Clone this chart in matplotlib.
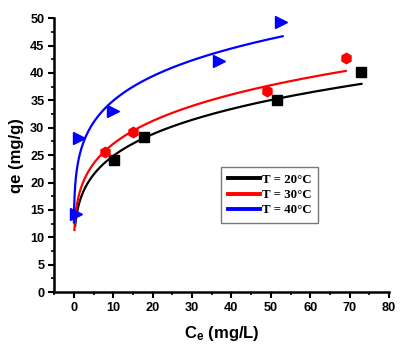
import numpy as np
import matplotlib
matplotlib.use("Agg")
import matplotlib.pyplot as plt
from matplotlib.ticker import MultipleLocator

# Experimental data (Ce in mg/L, qe in mg/g)
ce_20 = [10.1, 17.7, 51.6, 72.9]
qe_20 = [24.2, 28.3, 35.0, 40.2]
ce_30 = [7.9, 15.1, 49.0, 69.0]
qe_30 = [25.5, 29.3, 36.7, 42.8]
ce_40 = [0.5, 1.2, 9.9, 36.8, 52.6]
qe_40 = [14.3, 28.2, 33.1, 42.1, 49.2]

# Freundlich fit parameters (K, 1/n) and fitted Ce range
fit_20 = (15.2, 0.2136, 0.35, 73.0)
fit_30 = (16.8, 0.207, 0.15, 69.0)
fit_40 = (23.4, 0.174, 0.03, 53.0)

labels = ["T = 20°C", "T = 30°C", "T = 40°C"]
colors = ["black", "red", "blue"]

plt.rcParams['font.family'] = ['Liberation Sans', 'DejaVu Sans']
plt.rcParams['mathtext.default'] = 'regular'

fig = plt.figure(figsize=(4.13, 3.55), dpi=100)
ax = fig.add_axes([0.131, 0.177, 0.811, 0.772])

lines = []
for (K, invn, c0, c1), col, lab in zip([fit_20, fit_30, fit_40], colors, labels):
    c = np.logspace(np.log10(c0), np.log10(c1), 300)
    ln, = ax.plot(c, K * c ** invn, color=col, lw=1.6, label=lab, zorder=2)
    lines.append(ln)

ax.plot(ce_20, qe_20, ls='none', marker='s', ms=6.8, color='black', zorder=3, clip_on=False)
ax.plot(ce_30, qe_30, ls='none', marker='h', ms=7.5, color='red', zorder=3, clip_on=False)
ax.plot(ce_40, qe_40, ls='none', marker='>', ms=9, color='blue', zorder=4, clip_on=False)

ax.set_xlim(-5, 80)
ax.set_ylim(0, 50)
ax.xaxis.set_major_locator(MultipleLocator(10))
ax.xaxis.set_minor_locator(MultipleLocator(5))
ax.yaxis.set_major_locator(MultipleLocator(5))
ax.yaxis.set_minor_locator(MultipleLocator(2.5))

for s in ['top', 'right']:
    ax.spines[s].set_visible(False)
for s in ['left', 'bottom']:
    ax.spines[s].set_linewidth(1.8)

ax.tick_params(which='major', direction='out', length=4, width=1.5, labelsize=9.2, pad=3)
ax.tick_params(which='minor', direction='out', length=2.5, width=1.2)
for t in ax.get_xticklabels() + ax.get_yticklabels():
    t.set_fontweight('bold')

ax.set_xlabel(r'C$_{e}$ (mg/L)', fontsize=12, fontweight='bold', labelpad=7)
ax.set_ylabel('qe (mg/g)', fontsize=12, fontweight='bold', labelpad=4)

leg = ax.legend(handles=lines, loc='upper left', bbox_to_anchor=(0.498, 0.458),
                prop={'family': 'Liberation Serif', 'weight': 'bold', 'size': 9.3},
                frameon=True, fancybox=False, edgecolor='#555555',
                handlelength=2.5, handletextpad=0.1, borderpad=0.55, labelspacing=0.25,
                borderaxespad=0)
leg.get_frame().set_linewidth(1.0)
for l in leg.get_lines():
    l.set_linewidth(2.8)

fig.savefig('out.png', dpi=100)
